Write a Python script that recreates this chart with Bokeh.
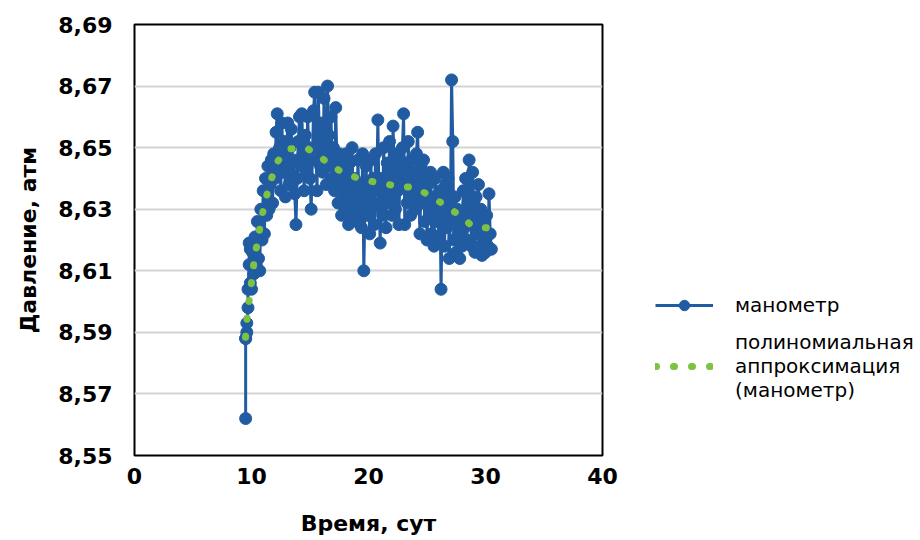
from bokeh.plotting import figure
from bokeh.models import FixedTicker, Legend, LegendItem, Range1d
from bokeh.embed import file_html
from bokeh.resources import INLINE

# --- data ---
time_days = [
    9.5, 9.5, 9.5, 9.6, 9.6, 9.7, 9.7, 9.8, 9.8, 9.9, 9.9,
    10.0, 10.1, 10.2, 10.3, 10.4, 10.5, 10.6, 10.7, 10.8, 10.9,
    11.0, 11.1, 11.2, 11.3, 11.4, 11.5, 11.6, 11.7, 11.8, 11.9,
    12.0, 12.1, 12.2, 12.3, 12.4, 12.5, 12.6, 12.7, 12.8, 12.9,
    13.0, 13.1, 13.2, 13.3, 13.4, 13.5, 13.6, 13.7, 13.8, 13.9,
    14.0, 14.1, 14.2, 14.3, 14.4, 14.5, 14.6, 14.7, 14.8, 14.9,
    15.0, 15.1, 15.2, 15.3, 15.4, 15.5, 15.6, 15.7, 15.8, 15.9,
    16.0, 16.1, 16.2, 16.3, 16.4, 16.5, 16.6, 16.7, 16.8, 16.9,
    17.0, 17.1, 17.2, 17.3, 17.4, 17.5, 17.6, 17.7, 17.8, 17.9,
    18.0, 18.1, 18.2, 18.3, 18.4, 18.5, 18.6, 18.7, 18.8, 18.9,
    19.0, 19.1, 19.2, 19.3, 19.4, 19.5, 19.6, 19.7, 19.8, 19.9,
    20.0, 20.1, 20.2, 20.3, 20.4, 20.5, 20.6, 20.7, 20.8, 20.9,
    21.0, 21.1, 21.2, 21.3, 21.4, 21.5, 21.6, 21.7, 21.8, 21.9,
    22.0, 22.1, 22.2, 22.3, 22.4, 22.5, 22.6, 22.7, 22.8, 22.9,
    23.0, 23.1, 23.2, 23.3, 23.4, 23.5, 23.6, 23.7, 23.8, 23.9,
    24.0, 24.1, 24.2, 24.3, 24.4, 24.5, 24.6, 24.7, 24.8, 24.9,
    25.0, 25.1, 25.2, 25.3, 25.4, 25.5, 25.6, 25.7, 25.8, 25.9,
    26.0, 26.1, 26.2, 26.3, 26.4, 26.5, 26.6, 26.7, 26.8, 26.9,
    27.0, 27.1, 27.2, 27.3, 27.4, 27.5, 27.6, 27.7, 27.8, 27.9,
    28.0, 28.1, 28.2, 28.3, 28.4, 28.5, 28.6, 28.7, 28.8, 28.9,
    29.0, 29.1, 29.2, 29.3, 29.4, 29.5, 29.6, 29.7, 29.8, 29.9,
    30.0, 30.1, 30.2, 30.3, 30.4, 30.5,
]

pressure_atm = [
    8.588, 8.562, 8.588, 8.593, 8.590, 8.598, 8.604, 8.612, 8.619, 8.617, 8.606,
    8.604, 8.616, 8.609, 8.621, 8.612, 8.626, 8.614, 8.610, 8.630, 8.620,
    8.636, 8.622, 8.640, 8.628, 8.644, 8.630, 8.638, 8.646, 8.632, 8.648,
    8.640, 8.655, 8.661, 8.644, 8.650, 8.636, 8.658, 8.642, 8.652, 8.634,
    8.648, 8.658, 8.638, 8.650, 8.656, 8.641, 8.646, 8.635, 8.625, 8.640,
    8.652, 8.660, 8.644, 8.661, 8.648, 8.636, 8.654, 8.642, 8.660, 8.650,
    8.640, 8.630, 8.646, 8.662, 8.668, 8.650, 8.636, 8.668, 8.655, 8.644,
    8.658, 8.642, 8.666, 8.650, 8.638, 8.670, 8.654, 8.644, 8.660, 8.640,
    8.650, 8.636, 8.663, 8.645, 8.632, 8.648, 8.640, 8.628, 8.646, 8.638,
    8.630, 8.648, 8.635, 8.625, 8.645, 8.632, 8.650, 8.628, 8.640, 8.633,
    8.626, 8.646, 8.630, 8.638, 8.624, 8.648, 8.610, 8.632, 8.644, 8.628,
    8.638, 8.622, 8.646, 8.630, 8.640, 8.625, 8.648, 8.636, 8.659, 8.632,
    8.619, 8.640, 8.628, 8.650, 8.635, 8.624, 8.645, 8.632, 8.652, 8.638,
    8.628, 8.657, 8.640, 8.630, 8.648, 8.636, 8.625, 8.646, 8.638, 8.650,
    8.661, 8.625, 8.645, 8.632, 8.652, 8.640, 8.628, 8.646, 8.634, 8.642,
    8.630, 8.648, 8.655, 8.636, 8.622, 8.644, 8.632, 8.646, 8.626, 8.640,
    8.620, 8.638, 8.628, 8.642, 8.622, 8.634, 8.618, 8.640, 8.626, 8.632,
    8.620, 8.636, 8.604, 8.628, 8.642, 8.618, 8.638, 8.624, 8.640, 8.614,
    8.626, 8.672, 8.652, 8.620, 8.634, 8.616, 8.630, 8.622, 8.614, 8.628,
    8.618, 8.636, 8.624, 8.640, 8.620, 8.632, 8.646, 8.638, 8.618, 8.642,
    8.628, 8.616, 8.634, 8.622, 8.638, 8.618, 8.630, 8.615, 8.626, 8.620,
    8.616, 8.628, 8.618, 8.635, 8.622, 8.617,
]

trend_time = [9.49, 9.63, 9.83, 10.06, 10.26, 10.57, 10.85, 11.22, 11.68, 12.28,
              13.27, 14.70, 15.84, 16.90, 18.03, 19.49, 21.03, 22.45, 24.02,
              25.36, 26.58, 27.80, 28.86, 30.43]
trend_pressure = [8.5884, 8.5950, 8.6014, 8.6078, 8.6144, 8.6206, 8.6271, 8.6334,
                  8.6397, 8.6458, 8.6496, 8.6499, 8.6471, 8.6439, 8.6415, 8.6396,
                  8.6385, 8.6375, 8.6370, 8.6341, 8.6312, 8.6280, 8.6245, 8.6238]

x_ticks = [0, 10, 20, 30, 40]
y_ticks = [8.55, 8.57, 8.59, 8.61, 8.63, 8.65, 8.67, 8.69]
y_tick_labels = ["8,55", "8,57", "8,59", "8,61", "8,63", "8,65", "8,67", "8,69"]

series_label = "манометр"
trend_label = "полиномиальная\nаппроксимация\n(манометр)"
x_title = "Время, сут"
y_title = "Давление, атм"

BLUE = "#215ca2"
GREEN = "#7dc242"
FONT = "DejaVu Sans"

p = figure(frame_width=468, frame_height=431,
           min_border_left=134, min_border_right=312,
           min_border_top=24, min_border_bottom=72,
           x_range=Range1d(0, 40), y_range=Range1d(8.55, 8.69),
           output_backend="svg", toolbar_location=None)

p.background_fill_color = "white"
p.border_fill_color = "white"
p.outline_line_color = "black"
p.outline_line_width = 2

p.xgrid.visible = False
p.ygrid.grid_line_color = "#d4d4d4"
p.ygrid.grid_line_width = 2

p.xaxis.ticker = FixedTicker(ticks=x_ticks)
p.yaxis.ticker = FixedTicker(ticks=y_ticks)
p.yaxis.major_label_overrides = dict(zip(y_ticks, y_tick_labels))

for ax in (p.xaxis[0], p.yaxis[0]):
    ax.axis_line_color = None
    ax.major_tick_line_color = None
    ax.minor_tick_line_color = None
    ax.major_tick_out = 0
    ax.major_tick_in = 0
    ax.major_label_text_font = FONT
    ax.major_label_text_font_style = "bold"
    ax.major_label_text_font_size = "22px"
    ax.major_label_text_color = "black"
    ax.axis_label_text_font = FONT
    ax.axis_label_text_font_style = "bold"
    ax.axis_label_text_font_size = "22px"
    ax.axis_label_text_color = "black"

p.xaxis.axis_label = x_title
p.yaxis.axis_label = y_title
p.xaxis.major_label_standoff = 12
p.xaxis.axis_label_standoff = 24
p.yaxis.major_label_standoff = 22
p.yaxis.axis_label_standoff = 14

blue_line = p.line(time_days, pressure_atm, line_color=BLUE, line_width=3)
blue_pts = p.scatter(time_days, pressure_atm, marker="circle", size=12,
                     fill_color=BLUE, line_color=BLUE)
trend_line = p.line(trend_time, trend_pressure, line_color=GREEN, line_width=7,
                    line_dash="1 17", line_cap="round")

legend = Legend(items=[
    LegendItem(label=series_label, renderers=[blue_line, blue_pts]),
    LegendItem(label=trend_label, renderers=[trend_line]),
], location=(53, 53))
legend.glyph_width = 58
legend.glyph_height = 26
legend.label_standoff = 22
legend.padding = 0
legend.margin = 0
legend.spacing = 12
legend.border_line_alpha = 0
legend.background_fill_alpha = 0
legend.label_text_font = FONT
legend.label_text_font_size = "20px"
legend.label_text_color = "black"
legend.label_height = 26
p.add_layout(legend, "right")

open("out.html", "w").write(file_html(p, INLINE))
